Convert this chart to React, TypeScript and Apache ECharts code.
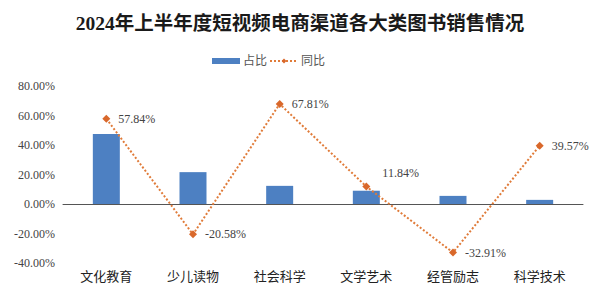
import React, { useEffect, useRef } from "react";
import * as echarts from "echarts";

const categories = ["文化教育", "少儿读物", "社会科学", "文学艺术", "经管励志", "科学技术"];
const shareValues = [47.5, 21.6, 12.3, 9.0, 5.5, 2.8];
const yoyValues = [57.84, -20.58, 67.81, 11.84, -32.91, 39.57];
const titleText = "2024年上半年度短视频电商渠道各大类图书销售情况";

const serif = "'Liberation Serif', 'DejaVu Serif', 'Noto Sans CJK SC', serif";

export default function App() {
  const ref = useRef<HTMLDivElement>(null);
  useEffect(() => {
    if (!ref.current) return;
    const chart = echarts.init(ref.current, null, { renderer: "svg" });
    chart.setOption({
      animation: false,
      backgroundColor: "#ffffff",
      title: {
        text: titleText,
        left: "center",
        top: 9,
        textStyle: { fontFamily: serif, fontSize: 19.5, fontWeight: "bold", color: "#1a1a1a" },
      },
      legend: {
        top: 50,
        left: 207,
        itemGap: 2,
        itemWidth: 28,
        itemHeight: 6,
        textStyle: { fontFamily: serif, fontSize: 12, color: "#555", padding: [0, 0, 0, -2] },
        data: [
          { name: "占比", icon: "rect" },
          { name: "同比" },
        ],
      },
      grid: { left: 63, right: 17, top: 86, bottom: 35, containLabel: false },
      xAxis: {
        type: "category",
        data: categories,
        axisLine: { onZero: true, lineStyle: { color: "#555", width: 1 } },
        axisTick: { show: false },
        axisLabel: { show: false },
      },
      yAxis: {
        type: "value",
        min: -40,
        max: 80,
        interval: 20,
        splitLine: { show: false },
        axisLine: { show: false },
        axisTick: { show: false },
        axisLabel: {
          formatter: (v: number) => v.toFixed(2) + "%",
          fontFamily: serif,
          fontSize: 12,
          color: "#444",
          margin: 8,
        },
      },
      graphic: categories.map((c, i) => ({
        type: "text",
        left: 63 + (520 / 6) * (i + 0.5) - 26,
        top: 270,
        style: { text: c, font: `13px ${serif}`, fill: "#222" },
      })),
      series: [
        {
          name: "占比",
          type: "bar",
          data: shareValues,
          barWidth: 27,
          itemStyle: { color: "#4d80c2" },
        },
        {
          name: "同比",
          type: "line",
          data: yoyValues.map((v, i) =>
            i === 3
              ? { value: v, label: { position: "right", offset: [4, -14] } }
              : v
          ),
          symbol: "diamond",
          symbolSize: 8,
          lineStyle: { type: "dotted", width: 2, color: "#e07b39" },
          itemStyle: { color: "#d9682b" },
          label: {
            show: true,
            position: "right",
            distance: 8,
            formatter: (p: any) => p.value.toFixed(2) + "%",
            fontFamily: serif,
            fontSize: 12,
            color: "#444",
          },
        },
      ],
    });
    return () => chart.dispose();
  }, []);
  return <div ref={ref} style={{ width: 600, height: 298, position: "absolute", left: 0, top: 0 }} />;
}
